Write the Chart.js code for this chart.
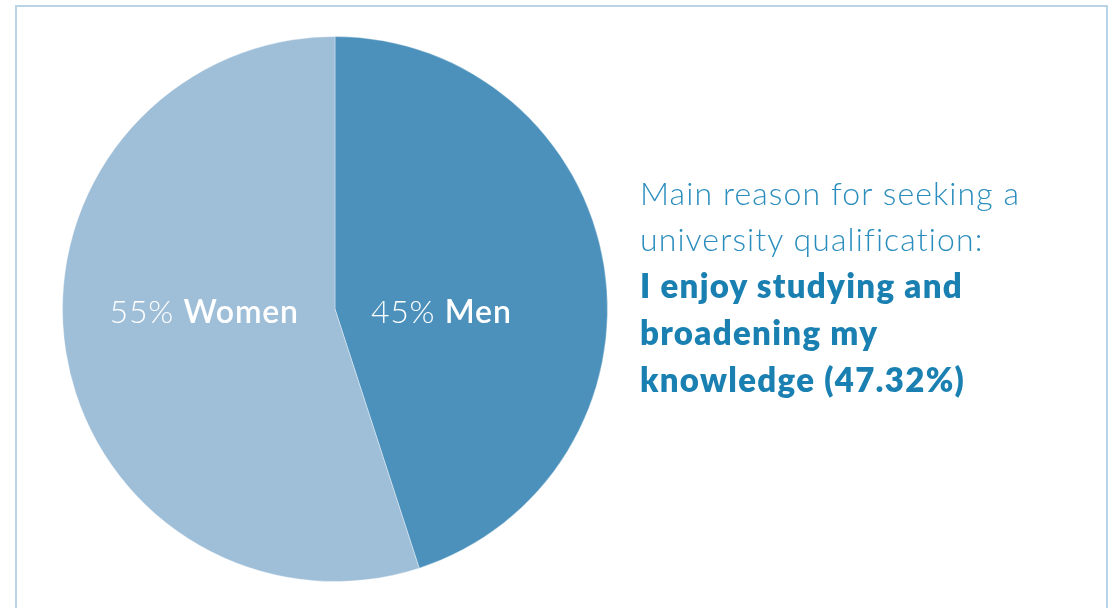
<!DOCTYPE html>
<html>
<head>
<meta charset="utf-8">
<script src="https://cdn.jsdelivr.net/npm/chart.js@4"></script>
<style>
  html, body { margin: 0; padding: 0; background: #fff; }
  #wrap { position: relative; width: 1112px; height: 608px; overflow: hidden; }
  #frame {
    position: absolute; left: 15px; top: 5px; width: 1093px; height: 620px;
    border: 2px solid #b8d4e7; box-sizing: border-box;
  }
  #myChart { position: absolute; left: 0; top: 0; }
  #note {
    position: absolute; left: 640px; top: 170px;
    font-family: Lato, "Open Sans", sans-serif; font-size: 32px; line-height: 46px;
    color: #2a8dbd; font-weight: 300; letter-spacing: 1.1px;
  }
  #note b { font-weight: 800; color: #1a80b1; letter-spacing: 1.3px; font-size: 33px; }
</style>
</head>
<body>
<div id="wrap">
  <div id="frame"></div>
  <canvas id="myChart" width="1112" height="608"></canvas>
  <div id="note">Main reason for seeking a<br>university qualification:<br><b>I enjoy studying and<br>broadening my<br>knowledge (47.32%)</b></div>
</div>
<script>
var labels = ["Men", "Women"];
var data = [45, 55];
var colors = ["rgb(75, 145, 188)", "rgb(159, 191, 217)"];

// where each slice's caption sits, as a share of the radius left/right of centre
var labelOffsets = [0.39, -0.48];

var sliceLabels = {
  id: "sliceLabels",
  afterDatasetsDraw: function (chart) {
    var c = chart.ctx;
    var meta = chart.getDatasetMeta(0);
    c.save();
    c.fillStyle = "#fff";
    c.textBaseline = "middle";
    c.letterSpacing = "0.8px";
    meta.data.forEach(function (arc, i) {
      var pct = data[i] + "% ";
      var name = labels[i];
      c.font = "300 32px Lato, sans-serif";
      var w1 = c.measureText(pct).width;
      c.font = "600 32px Lato, sans-serif";
      var w2 = c.measureText(name).width;
      var cx = arc.x + labelOffsets[i] * arc.outerRadius;
      var x = cx - (w1 + w2) / 2;
      var y = arc.y + 4;
      c.font = "300 32px Lato, sans-serif";
      c.fillText(pct, x, y);
      c.font = "600 32px Lato, sans-serif";
      c.fillText(name, x + w1, y);
    });
    c.restore();
  },
};

var ctx = document.getElementById("myChart");

var myChart = new Chart(ctx, {
  type: "pie",
  data: {
    labels: labels,
    datasets: [
      {
        data: data,
        backgroundColor: colors,
        borderColor: "rgba(255, 255, 255, 0.35)",
        borderWidth: 1,
      },
    ],
  },
  options: {
    responsive: false,
    animation: false,
    layout: { padding: { top: 36, bottom: 26, left: 62, right: 504 } },
    plugins: {
      legend: { display: false },
      tooltip: { enabled: false },
    },
  },
  plugins: [sliceLabels],
});
</script>
</body>
</html>
